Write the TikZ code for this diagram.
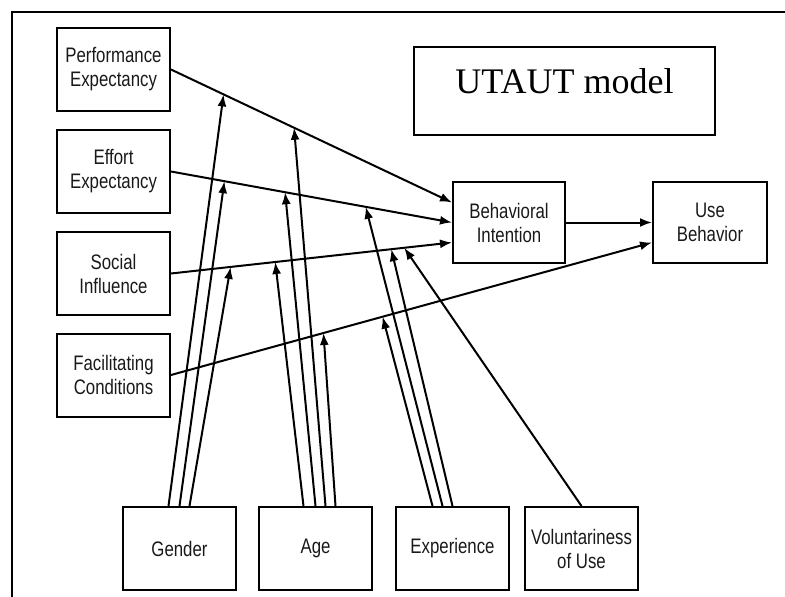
\documentclass[tikz,border=0pt]{standalone}
\usepackage{fontspec}
\usepackage{tikz}
\usetikzlibrary{arrows.meta}
\newfontfamily\boxfont{Liberation Sans}[FakeStretch=0.8]
\newfontfamily\titlefont{Liberation Serif}

\begin{document}
\begin{tikzpicture}[x=1pt,y=-1pt,
	factor/.style={draw,line width=2pt,minimum width=113pt,minimum height=83pt,align=center,inner sep=2pt,text=black!90,font=\boxfont\fontsize{21}{24}\selectfont},
	link/.style={line width=2pt,-{Latex[length=12pt,width=9pt]}}]
	\useasboundingbox (0,0) rectangle (785,597);
	\draw[line width=2.5pt] (785,12) -- (12,12) -- (12,597);
	\node[draw,line width=1.5pt,minimum width=301pt,minimum height=88pt,text depth=19pt,font=\titlefont\fontsize{36}{40}\selectfont] (title) at (564.5,91) {UTAUT model};
	\node[factor] (pe) at (113.5,69.5) {Performance\\Expectancy};
	\node[factor] (ee) at (113.5,171.5) {Effort\\Expectancy};
	\node[factor] (si) at (113.5,273.5) {Social\\Influence};
	\node[factor] (fc) at (113.5,375) {Facilitating\\Conditions};
	\node[factor] (gender) at (179.5,548.5) {Gender};
	\node[factor] (age) at (315.5,548.5) {Age};
	\node[factor] (exp) at (452.5,548.5) {Experience};
	\node[factor] (vol) at (581.5,548.5) {Voluntariness\\of Use};
	\node[factor,minimum width=112pt,minimum height=81pt] (bi) at (509,222.5) {Behavioral\\Intention};
	\node[factor,minimum width=114pt,minimum height=81pt] (ub) at (710,222.5) {Use\\Behavior};
	% determinants
	\draw[link] (pe.east) -- coordinate[pos=0.187] (pe1) coordinate[pos=0.438] (pe2) ([yshift=20pt]bi.west);
	\draw[link] (ee.east) -- coordinate[pos=0.19] (ee1) coordinate[pos=0.406] (ee2) coordinate[pos=0.693] (ee3) (bi.west);
	\draw[link] (si.east) -- coordinate[pos=0.212] (si1) coordinate[pos=0.371] (si2) coordinate[pos=0.784] (si3) coordinate[pos=0.83] (si4) ([yshift=-20pt]bi.west);
	\draw[link] (fc.east) -- coordinate[pos=0.317] (fc1) coordinate[pos=0.44] (fc2) ([yshift=-20pt]ub.west);
	\draw[link] (bi) -- (ub);
	% moderators
	\foreach \dx/\aim in {-11/pe1,0/ee1,10/si1}
		\draw[link] ([xshift=\dx pt]gender.north) -- (\aim);
	\foreach \dx/\aim in {-12/si2,0/ee2,10/pe2,20/fc1}
		\draw[link] ([xshift=\dx pt]age.north) -- (\aim);
	\foreach \dx/\aim in {-20/fc2,-10/ee3,0/si3}
		\draw[link] ([xshift=\dx pt]exp.north) -- (\aim);
	\draw[link] (vol.north) -- (si4);
\end{tikzpicture}
\end{document}
